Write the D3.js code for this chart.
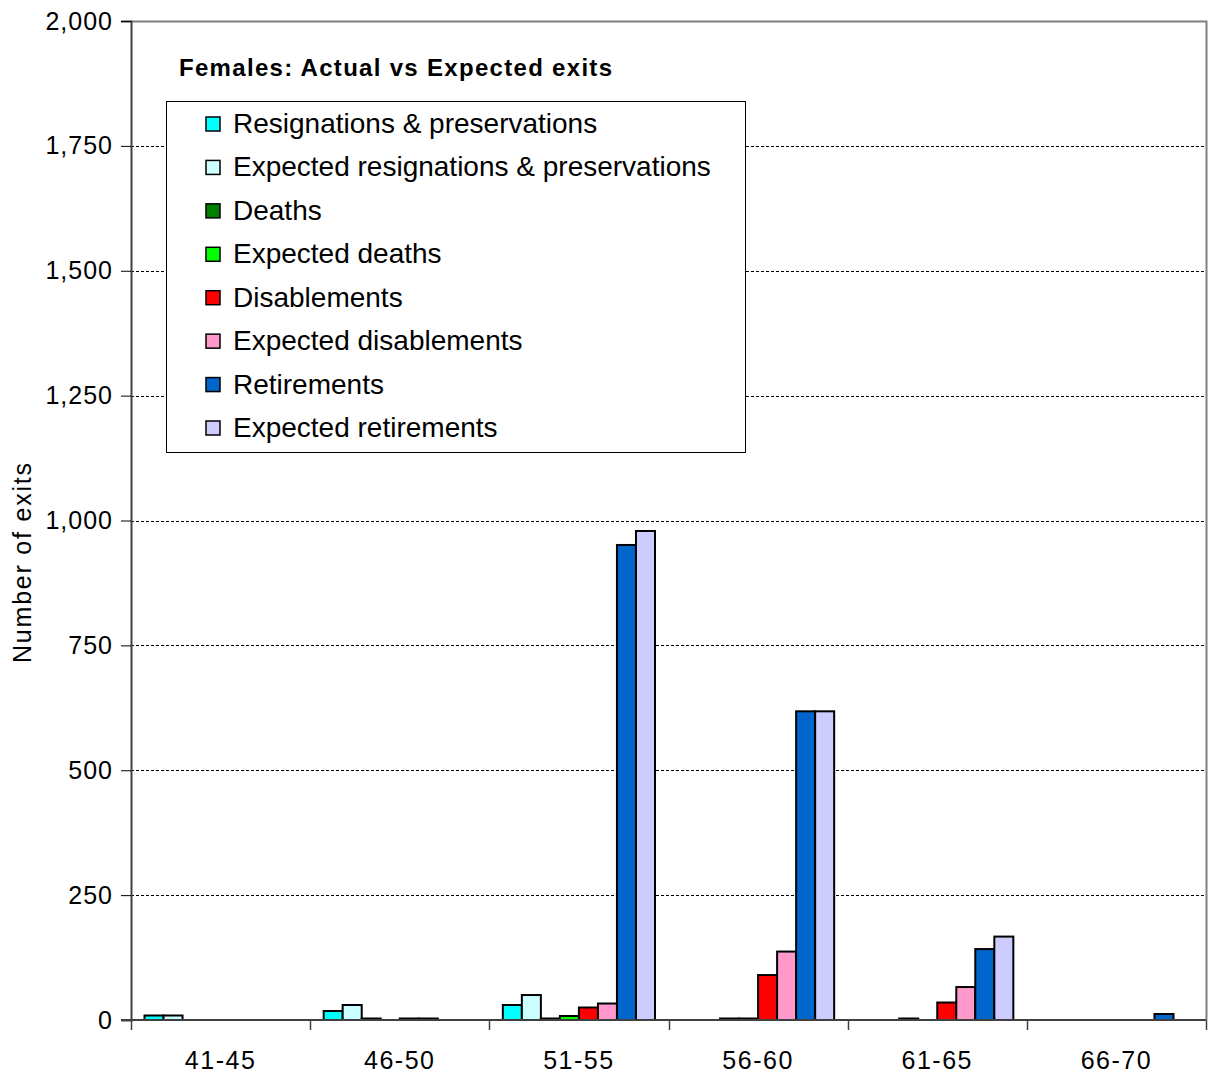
<!DOCTYPE html>
<html>
<head>
<meta charset="utf-8">
<script src="https://cdn.jsdelivr.net/npm/d3@7"></script>
<style>
  body { margin: 0; background: #fff; }
  svg text { font-family: "Liberation Sans", Arial, sans-serif; fill: #000; }
</style>
</head>
<body>
<div class="chart"></div>
<script>
var ageBands = ["41-45", "46-50", "51-55", "56-60", "61-65", "66-70"];
var seriesNames = ["Resignations & preservations", "Expected resignations & preservations",
  "Deaths", "Expected deaths", "Disablements", "Expected disablements",
  "Retirements", "Expected retirements"];
var seriesColors = ["#00ffff", "#ccffff", "#008000", "#00ff00", "#ff0000", "#ff99cc", "#0066cc", "#ccccff"];

var resignations    = [9, 18, 30, 0, 0, 0];
var expResignations = [9, 30, 50, 0, 0, 0];
var deaths          = [0, 3, 3, 3, 3, 0];
var expDeaths       = [0, 0, 8, 3, 0, 0];
var disablements    = [0, 3, 25, 90, 35, 0];
var expDisablements = [0, 3, 33, 137, 66, 0];
var retirements     = [0, 0, 951, 618, 142, 12];
var expRetirements  = [0, 0, 979, 618, 167, 0];
var yTicks = [0, 250, 500, 750, 1000, 1250, 1500, 1750, 2000];

var series = [resignations, expResignations, deaths, expDeaths,
  disablements, expDisablements, retirements, expRetirements];

var width = 1209, height = 1075;
var plotLeft = 131, plotRight = 1206, plotTop = 21, plotBottom = 1020;

var svg = d3.select(".chart").append("svg")
  .attr("width", width)
  .attr("height", height);

var x0 = d3.scaleBand().domain(ageBands).range([plotLeft, plotRight]);
var x1 = d3.scaleBand().domain(d3.range(series.length))
  .range([13.5, x0.bandwidth() - 13.5]);
var y = d3.scaleLinear().domain([0, 2000]).range([plotBottom, plotTop]);

// gridlines
svg.append("g").selectAll("line")
  .data(yTicks.filter(function(d) { return d > 0 && d < 2000; }))
  .enter().append("line")
  .attr("x1", plotLeft).attr("x2", plotRight)
  .attr("y1", function(d) { return Math.round(y(d)) + 0.5; })
  .attr("y2", function(d) { return Math.round(y(d)) + 0.5; })
  .attr("stroke", "#000").attr("stroke-width", 1)
  .attr("stroke-dasharray", "3,2");

// plot frame top/right (gray)
svg.append("path")
  .attr("d", "M" + plotLeft + "," + (y(2000) + 0.5) + "H" + (plotRight + 0.5) + "V" + plotBottom)
  .attr("fill", "none").attr("stroke", "#808080").attr("stroke-width", 2);

// bars
var groups = svg.append("g").selectAll("g")
  .data(ageBands)
  .enter().append("g")
  .attr("transform", function(d) { return "translate(" + x0(d) + ",0)"; });

groups.selectAll("rect")
  .data(function(d, gi) {
    return series.map(function(s, si) { return { si: si, v: s[gi] }; })
      .filter(function(e) { return e.v > 0; });
  })
  .enter().append("rect")
  .attr("x", function(d) { return x1(d.si); })
  .attr("width", x1.bandwidth())
  .attr("y", function(d) { return y(d.v); })
  .attr("height", function(d) { return y(0) - y(d.v); })
  .attr("fill", function(d) { return seriesColors[d.si]; })
  .attr("stroke", "#000").attr("stroke-width", 2);

// y axis
var yAxis = svg.append("g")
  .attr("transform", "translate(" + plotLeft + ",0)")
  .call(d3.axisLeft(y).tickValues(yTicks).tickSize(10).tickPadding(8)
    .tickFormat(d3.format(",")));
yAxis.select(".domain").attr("stroke", "#404040").attr("stroke-width", 2);
yAxis.selectAll(".tick line").attr("stroke", "#000");
yAxis.selectAll("text").style("font-size", "25px").style("letter-spacing", "1px")
  .attr("fill", "#000");

// x axis
var xAxis = svg.append("g")
  .attr("transform", "translate(0," + plotBottom + ")");
xAxis.append("line")
  .attr("x1", plotLeft - 10).attr("x2", plotRight)
  .attr("stroke", "#404040").attr("stroke-width", 2);
xAxis.selectAll(".sep")
  .data(ageBands.concat(["end"]))
  .enter().append("line")
  .attr("class", "sep")
  .attr("x1", function(d, i) { return Math.round(plotLeft + i * x0.bandwidth()) + 0.5; })
  .attr("x2", function(d, i) { return Math.round(plotLeft + i * x0.bandwidth()) + 0.5; })
  .attr("y1", 0).attr("y2", 10)
  .attr("stroke", "#404040").attr("stroke-width", 1.5);
xAxis.selectAll(".lbl")
  .data(ageBands)
  .enter().append("text")
  .attr("class", "lbl")
  .attr("x", function(d) { return x0(d) + x0.bandwidth() / 2; })
  .attr("y", 49)
  .attr("text-anchor", "middle")
  .style("font-size", "25px")
  .style("letter-spacing", "1.5px")
  .text(function(d) { return d; });

// y axis title
svg.append("text")
  .attr("transform", "translate(31,563) rotate(-90)")
  .attr("text-anchor", "middle")
  .attr("textLength", 200)
  .attr("lengthAdjust", "spacing")
  .style("font-size", "25px")
  .text("Number of exits");

// chart title
svg.append("text")
  .attr("x", 179).attr("y", 76)
  .attr("textLength", 433)
  .attr("lengthAdjust", "spacing")
  .style("font-size", "24px").style("font-weight", "bold")
  .text("Females: Actual vs Expected exits");

// legend
var legend = svg.append("g");
legend.append("rect")
  .attr("x", 166.5).attr("y", 101.5)
  .attr("width", 579).attr("height", 351)
  .attr("fill", "#fff").attr("stroke", "#000").attr("stroke-width", 1);

var rowY = d3.scaleLinear().domain([0, 7]).range([124, 428]);
var items = legend.selectAll(".item")
  .data(seriesNames)
  .enter().append("g")
  .attr("class", "item")
  .attr("transform", function(d, i) { return "translate(0," + rowY(i) + ")"; });
items.append("rect")
  .attr("x", 206).attr("y", -7)
  .attr("width", 14).attr("height", 14)
  .attr("fill", function(d, i) { return seriesColors[i]; })
  .attr("stroke", "#000").attr("stroke-width", 1.5);
items.append("text")
  .attr("x", 233).attr("y", 9)
  .style("font-size", "28px")
  .text(function(d) { return d; });
</script>
</body>
</html>
